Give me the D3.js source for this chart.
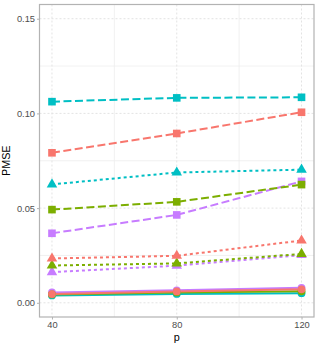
<!DOCTYPE html>
<html>
<head>
<meta charset="utf-8">
<script src="https://d3js.org/d3.v7.min.js"></script>
<style>
	body { margin: 0; background: #fff; }
	svg { display: block; font-family: "Liberation Sans", Arial, sans-serif; }
	.tick-lab { fill: #4d4d4d; font-size: 9.3px; }
	.ax-title { fill: #000; font-size: 10.8px; }
</style>
</head>
<body>
<div id="chart"></div>
<script>
	// x categories and ticks
	var pVals = [40, 80, 120];
	var yTicks = [0, 0.05, 0.10, 0.15];
	var yMinor = [0.025, 0.075, 0.125];
	var xMinor = [60, 100];

	// dashed lines with squares
	var sqRed = [0.0792, 0.0894, 0.1006];
	var sqGreen = [0.0492, 0.0533, 0.0624];
	var sqCyan = [0.1062, 0.1082, 0.1085];
	var sqPurple = [0.0367, 0.0464, 0.0641];

	// dotted lines with triangles
	var triRed = [0.0234, 0.0248, 0.0329];
	var triGreen = [0.0197, 0.0208, 0.0258];
	var triCyan = [0.0625, 0.0688, 0.0703];
	var triPurple = [0.0162, 0.0196, 0.0252];

	// solid lines with circles
	var ciRed = [0.0046, 0.0060, 0.0071];
	var ciGreen = [0.0044, 0.0055, 0.0061];
	var ciCyan = [0.0039, 0.0047, 0.0051];
	var ciPurple = [0.0055, 0.0066, 0.0079];

	var cols = { red: "#F8766D", green: "#7CAE00", cyan: "#00BFC4", purple: "#C77CFF" };

	var series = [
		{ v: sqPurple, c: cols.purple, type: "dash" },
		{ v: sqCyan, c: cols.cyan, type: "dash" },
		{ v: sqGreen, c: cols.green, type: "dash" },
		{ v: sqRed, c: cols.red, type: "dash" },
		{ v: triPurple, c: cols.purple, type: "dot" },
		{ v: triCyan, c: cols.cyan, type: "dot" },
		{ v: triGreen, c: cols.green, type: "dot" },
		{ v: triRed, c: cols.red, type: "dot" },
		{ v: ciPurple, c: cols.purple, type: "solid" },
		{ v: ciCyan, c: cols.cyan, type: "solid" },
		{ v: ciGreen, c: cols.green, type: "solid" },
		{ v: ciRed, c: cols.red, type: "solid" }
	];

	var W = 319, H = 348;
	var pan = { left: 39.5, right: 314, top: 4.5, bot: 317 };

	var xSc = d3.scaleLinear().domain([36, 124]).range([pan.left, pan.right]);
	var ySc = d3.scaleLinear().domain([-0.0075, 0.1575]).range([pan.bot, pan.top]);

	var svg = d3.select("#chart").append("svg").attr("width", W).attr("height", H);

	// grid: minor solid, major dashed
	var grid = svg.append("g");
	grid.selectAll(".ymin").data(yMinor).enter().append("line")
		.attr("x1", pan.left).attr("x2", pan.right)
		.attr("y1", function(d) { return ySc(d); }).attr("y2", function(d) { return ySc(d); })
		.attr("stroke", "#ededed").attr("stroke-width", 0.8);
	grid.selectAll(".xmin").data(xMinor).enter().append("line")
		.attr("y1", pan.top).attr("y2", pan.bot)
		.attr("x1", function(d) { return xSc(d); }).attr("x2", function(d) { return xSc(d); })
		.attr("stroke", "#ededed").attr("stroke-width", 0.8);
	grid.selectAll(".ymaj").data(yTicks).enter().append("line")
		.attr("x1", pan.left).attr("x2", pan.right)
		.attr("y1", function(d) { return ySc(d); }).attr("y2", function(d) { return ySc(d); })
		.attr("stroke", "#e3e3e3").attr("stroke-width", 1).attr("stroke-dasharray", "2,2");
	grid.selectAll(".xmaj").data(pVals).enter().append("line")
		.attr("y1", pan.top).attr("y2", pan.bot)
		.attr("x1", function(d) { return xSc(d); }).attr("x2", function(d) { return xSc(d); })
		.attr("stroke", "#e3e3e3").attr("stroke-width", 1).attr("stroke-dasharray", "2,2");

	// axes
	var yAxis = d3.axisLeft(ySc).tickValues(yTicks).tickSize(2.5).tickPadding(2)
		.tickFormat(d3.format(".2f"));
	var xAxis = d3.axisBottom(xSc).tickValues(pVals).tickSize(2.5).tickPadding(2);

	var gy = svg.append("g").attr("transform", "translate(" + pan.left + ",0)").call(yAxis);
	var gx = svg.append("g").attr("transform", "translate(0," + pan.bot + ")").call(xAxis);
	[gy, gx].forEach(function(g) {
		g.select(".domain").remove();
		g.selectAll(".tick line").attr("stroke", "#b3b3b3");
		g.selectAll(".tick text").attr("class", "tick-lab").attr("font-size", null).attr("font-family", null);
	});

	// lines then points
	var line = d3.line()
		.x(function(d, i) { return xSc(pVals[i]); })
		.y(function(d) { return ySc(d); });
	var dashes = { dash: "8,3.5", dot: "3,3", solid: null };

	var lineG = svg.append("g");
	lineG.selectAll("path").data(series).enter().append("path")
		.attr("d", function(s) { return line(s.v); })
		.attr("fill", "none")
		.attr("stroke", function(s) { return s.c; })
		.attr("stroke-width", 2)
		.attr("stroke-dasharray", function(s) { return dashes[s.type]; });

	var shapes = {
		dash: d3.symbol().type(d3.symbolSquare).size(58),
		dot: d3.symbol().type(d3.symbolTriangle).size(48),
		solid: d3.symbol().type(d3.symbolCircle).size(48)
	};

	var ptG = svg.append("g");
	series.forEach(function(s) {
		ptG.append("g").selectAll("path").data(s.v).enter().append("path")
			.attr("transform", function(d, i) { return "translate(" + xSc(pVals[i]) + "," + ySc(d) + ")"; })
			.attr("d", shapes[s.type]())
			.attr("fill", s.c);
	});

	// panel border
	svg.append("rect")
		.attr("x", pan.left).attr("y", pan.top)
		.attr("width", pan.right - pan.left).attr("height", pan.bot - pan.top)
		.attr("fill", "none").attr("stroke", "#b3b3b3").attr("stroke-width", 1.2);

	// titles
	svg.append("text").attr("class", "ax-title")
		.attr("x", (pan.left + pan.right) / 2).attr("y", 341)
		.attr("text-anchor", "middle").text("p");
	svg.append("text").attr("class", "ax-title")
		.attr("transform", "translate(10," + ((pan.top + pan.bot) / 2) + ") rotate(-90)")
		.attr("text-anchor", "middle").text("PMSE");
</script>
</body>
</html>
